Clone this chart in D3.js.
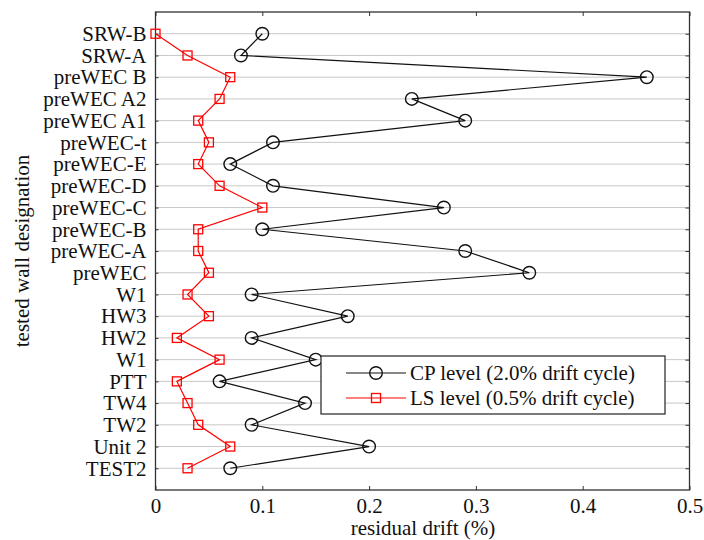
<!DOCTYPE html>
<html>
<head>
<meta charset="utf-8">
<script src="https://cdn.jsdelivr.net/npm/d3@7"></script>
<style>
  html, body { margin: 0; padding: 0; background: #fff; }
  svg { display: block; font-family: "Liberation Serif", "Times New Roman", serif; }
</style>
</head>
<body>
<svg id="chart" width="704" height="540"></svg>
<script>
// Wall designations, listed top to bottom
const walls = ["SRW-B", "SRW-A", "preWEC B", "preWEC A2", "preWEC A1", "preWEC-t",
  "preWEC-E", "preWEC-D", "preWEC-C", "preWEC-B", "preWEC-A", "preWEC", "W1",
  "HW3", "HW2", "W1", "PTT", "TW4", "TW2", "Unit 2", "TEST2"];

// Residual drift (%) at collapse prevention level (2.0% drift cycle)
const cpDrift = [0.10, 0.08, 0.46, 0.24, 0.29, 0.11, 0.07, 0.11, 0.27, 0.10, 0.29,
  0.35, 0.09, 0.18, 0.09, 0.15, 0.06, 0.14, 0.09, 0.20, 0.07];

// Residual drift (%) at life safety level (0.5% drift cycle)
const lsDrift = [0.00, 0.03, 0.07, 0.06, 0.04, 0.05, 0.04, 0.06, 0.10, 0.04, 0.04,
  0.05, 0.03, 0.05, 0.02, 0.06, 0.02, 0.03, 0.04, 0.07, 0.03];

const xTicks = [0, 0.1, 0.2, 0.3, 0.4, 0.5];

const FONT = 21;
const svg = d3.select("#chart");
const m = { left: 155.5, right: 689.5, top: 12, bottom: 490 };

const x = d3.scaleLinear().domain([0, 0.5]).range([m.left, m.right]);
// Each wall sits on an integer slot; slot 0 and slot n+1 are padding
const y = d3.scaleLinear().domain([0, walls.length + 1]).range([m.top, m.bottom]);
const yPos = i => y(i + 1);

const idx = d3.range(walls.length);

// Horizontal grid lines at every wall
svg.append("g")
  .selectAll("line")
  .data(idx)
  .join("line")
  .attr("x1", m.left).attr("x2", m.right)
  .attr("y1", i => yPos(i)).attr("y2", i => yPos(i))
  .attr("stroke", "#c8c8c8").attr("stroke-width", 1);

// Bottom axis with inward ticks
const xAxisB = d3.axisBottom(x).tickValues(xTicks).tickSize(-4)
  .tickFormat(d => d === 0 ? "0" : d3.format(".1f")(d));
const gxB = svg.append("g").attr("transform", `translate(0,${m.bottom})`).call(xAxisB);
gxB.select(".domain").remove();
gxB.selectAll("line").attr("stroke", "#333");
gxB.selectAll("text").attr("font-size", FONT).attr("fill", "#111")
  .attr("y", 23).attr("dy", 0)
  .attr("font-family", "Liberation Serif, Times New Roman, serif");

// Top axis: ticks only
const gxT = svg.append("g").attr("transform", `translate(0,${m.top})`)
  .call(d3.axisTop(x).tickValues(xTicks).tickSize(-4).tickFormat(""));
gxT.select(".domain").remove();
gxT.selectAll("line").attr("stroke", "#333");

// Left axis with wall names
const yAxisL = d3.axisLeft(y).tickValues(idx.map(i => i + 1)).tickSize(-3).tickPadding(9)
  .tickFormat(d => walls[d - 1]);
const gyL = svg.append("g").attr("transform", `translate(${m.left},0)`).call(yAxisL);
gyL.select(".domain").remove();
gyL.selectAll("line").attr("stroke", "#333");
gyL.selectAll("text").attr("font-size", FONT).attr("fill", "#111")
  .attr("font-family", "Liberation Serif, Times New Roman, serif");

// Right axis: ticks only
const gyR = svg.append("g").attr("transform", `translate(${m.right},0)`)
  .call(d3.axisRight(y).tickValues(idx.map(i => i + 1)).tickSize(-4).tickFormat(""));
gyR.select(".domain").remove();
gyR.selectAll("line").attr("stroke", "#333");

// Frame
svg.append("rect")
  .attr("x", m.left).attr("y", m.top)
  .attr("width", m.right - m.left).attr("height", m.bottom - m.top)
  .attr("fill", "none").attr("stroke", "#333").attr("stroke-width", 1.3);

// Axis titles
svg.append("text")
  .attr("x", 423).attr("y", 535)
  .attr("text-anchor", "middle").attr("font-size", FONT).attr("fill", "#111")
  .text("residual drift (%)");
svg.append("text")
  .attr("transform", `translate(29,${(m.top + m.bottom) / 2}) rotate(-90)`)
  .attr("text-anchor", "middle").attr("font-size", FONT).attr("fill", "#111")
  .text("tested wall designation");

const line = vals => d3.line().x((d, i) => x(vals[i])).y((d, i) => yPos(i))(idx);

// CP series: black line with open circles
svg.append("path").attr("d", line(cpDrift))
  .attr("fill", "none").attr("stroke", "#111").attr("stroke-width", 1.2);
svg.append("g").selectAll("circle").data(idx).join("circle")
  .attr("cx", i => x(cpDrift[i])).attr("cy", i => yPos(i)).attr("r", 6.3)
  .attr("fill", "none").attr("stroke", "#111").attr("stroke-width", 1.4);

// LS series: red line with open squares
const sq = 9;
svg.append("path").attr("d", line(lsDrift))
  .attr("fill", "none").attr("stroke", "#ff0000").attr("stroke-width", 1.2);
svg.append("g").selectAll("rect").data(idx).join("rect")
  .attr("x", i => x(lsDrift[i]) - sq / 2).attr("y", i => yPos(i) - sq / 2)
  .attr("width", sq).attr("height", sq)
  .attr("fill", "none").attr("stroke", "#ff0000").attr("stroke-width", 1.3);

// Legend
const lg = svg.append("g");
lg.append("rect").attr("x", 321).attr("y", 356).attr("width", 344).attr("height", 58)
  .attr("fill", "#fff").attr("stroke", "#222").attr("stroke-width", 1.2);
const items = [
  { label: "CP level (2.0% drift cycle)", color: "#111", shape: "circle", yy: 373 },
  { label: "LS level (0.5% drift cycle)", color: "#ff0000", shape: "square", yy: 398 }
];
items.forEach(it => {
  lg.append("line").attr("x1", 346).attr("x2", 406).attr("y1", it.yy).attr("y2", it.yy)
    .attr("stroke", it.color).attr("stroke-width", 1.2);
  if (it.shape === "circle") {
    lg.append("circle").attr("cx", 376).attr("cy", it.yy).attr("r", 6.3)
      .attr("fill", "none").attr("stroke", it.color).attr("stroke-width", 1.4);
  } else {
    lg.append("rect").attr("x", 376 - sq / 2).attr("y", it.yy - sq / 2)
      .attr("width", sq).attr("height", sq)
      .attr("fill", "none").attr("stroke", it.color).attr("stroke-width", 1.3);
  }
  lg.append("text").attr("x", 410).attr("y", it.yy).attr("dy", "0.35em")
    .attr("font-size", FONT).attr("fill", "#111").text(it.label);
});
</script>
</body>
</html>
